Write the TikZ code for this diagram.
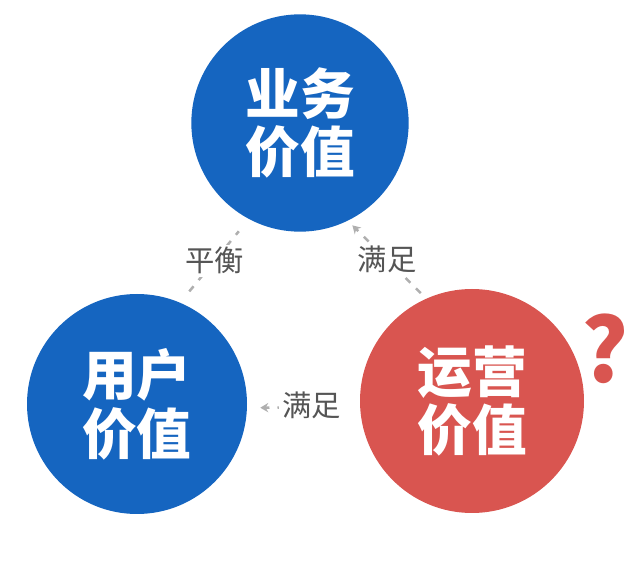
\documentclass[tikz,border=0pt]{standalone}
\usepackage{fontspec}
\setmainfont{Noto Sans CJK SC}
\usetikzlibrary{arrows.meta}
\definecolor{valblue}{RGB}{21,101,192}
\definecolor{valred}{RGB}{217,85,80}
\definecolor{linkgray}{RGB}{175,175,175}
\definecolor{taggray}{RGB}{85,85,85}

\begin{document}
\begin{tikzpicture}[x=0.75pt,y=-0.75pt,
    value/.style={circle, inner sep=0pt, outer sep=0pt, text=white, align=center,
      font=\bfseries\fontsize{41pt}{44pt}\selectfont},
    link/.style={linkgray, line width=1.9pt, dash pattern=on 5pt off 6pt},
    tag/.style={fill=white, text=taggray, inner sep=2pt, font=\fontsize{22pt}{24pt}\selectfont}]
      \useasboundingbox (0,0) rectangle (640,573);

      \node at(300,123) [value, fill=valblue, minimum size=163pt] (business) {业务\\价值};
      \node at(137,404) [value, fill=valblue, minimum size=165pt] (user) {用户\\价值};
      \node at(472,401) [value, fill=valred, minimum size=168pt] (operation) {运营\\价值};
      \node at(605,349) [text=valred, font=\bfseries\fontsize{66pt}{66pt}\selectfont] (question) {?};

      \draw[link]
      (user.67) edge [shorten <=11pt, shorten >=12pt] node[tag] {平衡} (business.242)
      (operation.114) edge [-{Stealth[length=6pt,width=7pt]}, shorten <=6pt, shorten >=5pt]
                node[tag] {满足} (business.296)
      (operation.183) edge [-{Stealth[length=6pt,width=7pt]}, shorten <=13pt, shorten >=10pt]
                node[tag, pos=0.43, yshift=1.5pt] {满足} (user.358)
      ;

\end{tikzpicture}
\end{document}
